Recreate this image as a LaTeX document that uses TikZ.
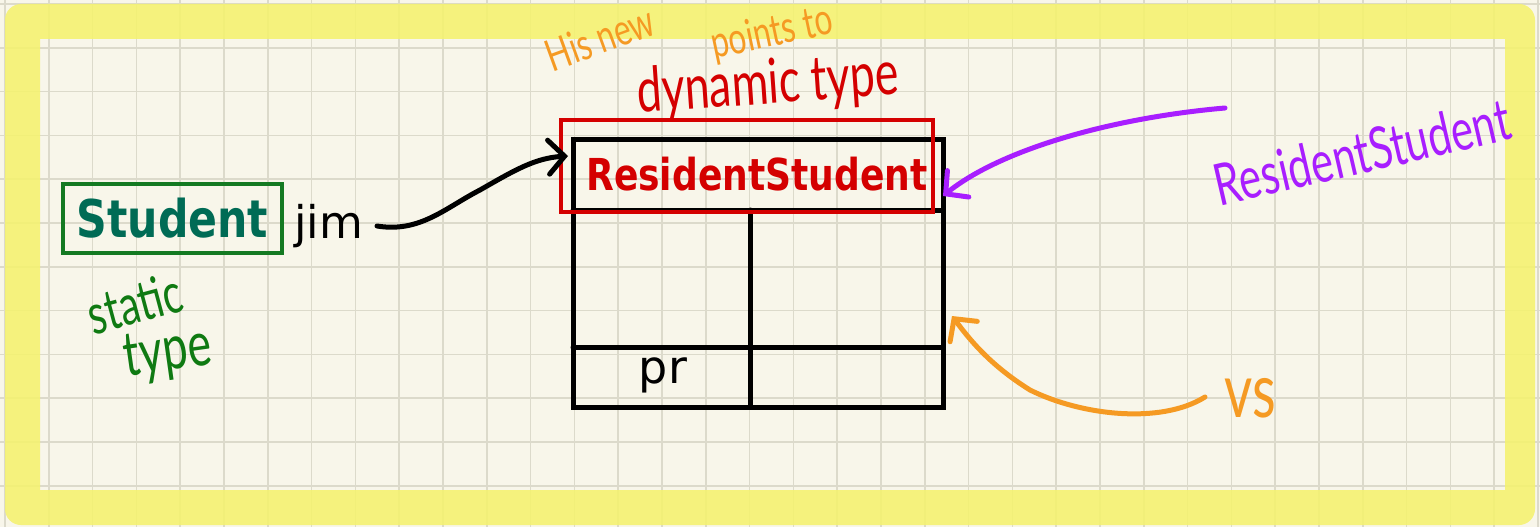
\documentclass[tikz,border=0pt]{standalone}
\usepackage{fontspec}
\setmainfont{DejaVu Sans}
\newfontfamily\typed[FakeStretch=0.82]{DejaVu Sans}
\newfontfamily\hand[FakeStretch=0.72]{Lato}
\usetikzlibrary{arrows.meta}
\definecolor{paper}{HTML}{F8F6EA}
\definecolor{gridc}{HTML}{DCDACB}
\definecolor{hl}{HTML}{F5F26E}
\definecolor{sgreen}{HTML}{147A22}
\definecolor{steal}{HTML}{006B55}
\definecolor{hgreen}{HTML}{0F7A12}
\definecolor{dred}{HTML}{D40000}
\definecolor{hpurple}{HTML}{A81EFF}
\definecolor{horange}{HTML}{F59A23}
\tikzset{
  gridline/.style={gridc, line width=1.6pt},
  cell/.style={line width=5pt, black, line cap=round},
  typedtext/.style={inner sep=0pt},
  handtext/.style={inner sep=0pt, font=\hand\fontsize{#1}{#1}\selectfont},
  handarrow/.style={line width=5pt, line cap=round, -{Straight Barb[length=16pt,width=34pt,line cap=round]}},
}
\begin{document}
\begin{tikzpicture}[x=1pt,y=-1pt]
\useasboundingbox (0,0) rectangle (1540,527);
\clip (0,0) rectangle (1540,527);
\fill[paper] (0,0) rectangle (1540,527);
% grid
\foreach \i in {0,...,35} \draw[gridline] ({5+43.8*\i},0) -- ({5+43.8*\i},527);
\foreach \i in {0,...,12} \draw[gridline] (0,{4+43.8*\i}) -- (1540,{4+43.8*\i});
% highlighter frame
\fill[hl, opacity=0.88, even odd rule] [rounded corners=16pt] (5,4) rectangle (1535,525) [sharp corners] (40,39) rectangle (1505,490);

% static type box
\node[draw=sgreen, line width=4pt, minimum width=219pt, minimum height=69pt, inner sep=0pt,
      text=steal, font=\typed\bfseries\fontsize{52}{52}\selectfont] (student) at (172.5,218.5) {Student};
\node[typedtext, anchor=base west, font=\fontsize{45}{45}\selectfont] (jim) at (294,238) {jim};
\coordinate (jimend) at (377,226);

% object
\node[draw, line width=5pt, minimum width=370pt, minimum height=268pt, inner sep=0pt] (obj) at (758,273) {};
\draw[cell] (573,210) -- (943,210);
\draw[cell] (750,210) -- (750,407);
\draw[cell] (573,347) -- (943,347);
\node[typedtext, anchor=base, font=\fontsize{46}{46}\selectfont] (pr) at (663,383) {pr};

% dynamic type box
\node[draw=dred, line width=4pt, minimum width=372pt, minimum height=92pt, inner sep=0pt] (dyn) at (747,166) {};
\node[typedtext, anchor=base, text=dred, font=\typed\bfseries\fontsize{44}{44}\selectfont] (rs) at (757,190) {ResidentStudent};

% reference arrow
\coordinate (objin) at (568,156);
\draw[handarrow] (jimend) .. controls (420,233) and (445,208) .. (480,190) .. controls (515,170) and (535,158) .. (objin);

% handwritten notes
\node[handtext=62, text=dred, rotate=4] (dynlabel) at (768,86) {dynamic type};
\node[handtext=56, text=hgreen, rotate=15] (static) at (135,303) {static};
\node[handtext=62, text=hgreen, rotate=8] (type) at (168,355) {type};
\node[handtext=44, text=horange, rotate=20] (hisnew) at (600,38) {His new};
\node[handtext=44, text=horange, rotate=12] (points) at (772,34) {points to};

\node[handtext=58, text=hpurple, rotate=13] (rshand) at (1362,152) {ResidentStudent};
\coordinate (pstart) at (1225,108);
\coordinate (pend) at (943,196);
\draw[handarrow, hpurple] (pstart) .. controls (1110,118) and (1000,150) .. (pend);

\node[handtext=76, text=horange] (vs) at (1250,398) {vs};
\coordinate (ostart) at (1205,397);
\coordinate (oend) at (952,316);
\draw[handarrow, horange] (ostart) .. controls (1160,425) and (1080,415) .. (1030,390) .. controls (990,365) and (970,340) .. (oend);
\end{tikzpicture}
\end{document}
